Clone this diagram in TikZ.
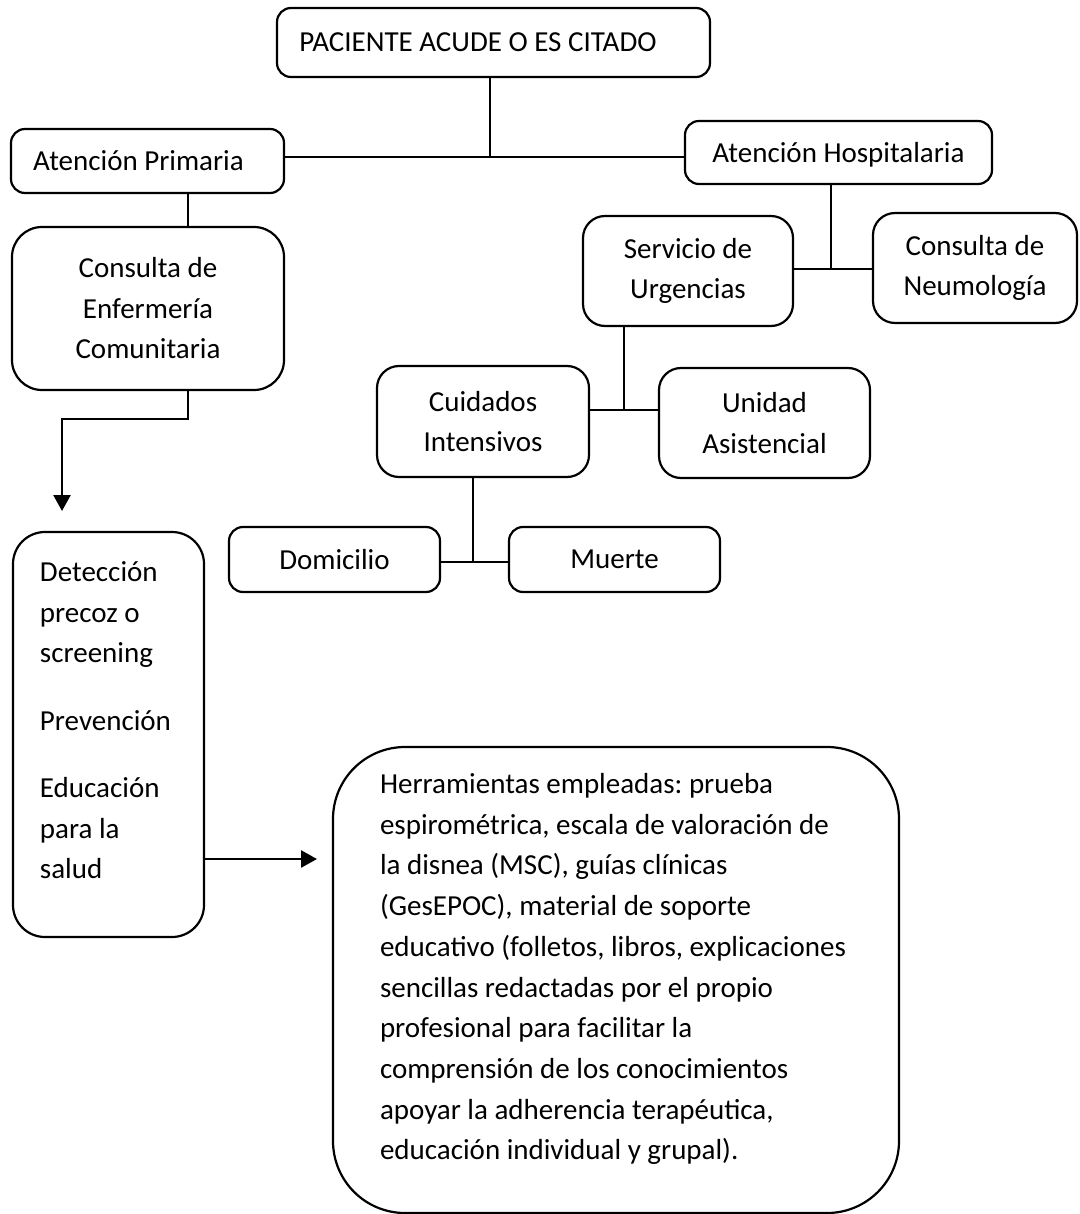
\documentclass[tikz,border=0pt]{standalone}
\usepackage{fontspec}
\setmainfont{Carlito}
\usetikzlibrary{arrows.meta}
\frenchspacing

\begin{document}
\begin{tikzpicture}[x=1pt, y=-1pt,
    box/.style={draw, line width=2.2pt, rounded corners=#1, inner sep=0pt,
      align=center, font=\fontsize{29}{40.5}\selectfont},
    box/.default=14pt,
    link/.style={line width=1.8pt},
    arrowline/.style={line width=2.6pt, -{Triangle[width=17pt,length=16pt]}}]
  \useasboundingbox (0,0) rectangle (1079,1214);

  % Top level
  \node[box, minimum width=433pt, minimum height=69pt] (pac) at (493.5,42.5)
    {PACIENTE ACUDE O ES CITADO\hspace*{31pt}};
  \node[box, minimum width=273pt, minimum height=64pt] (prim) at (147.5,161)
    {Atención Primaria\hspace*{18pt}};
  \node[box, minimum width=307pt, minimum height=63pt, text depth=0pt] (hosp) at (838.5,152.5)
    {Atención Hospitalaria};

  % Primary care branch
  \node[box=30pt, minimum width=272pt, minimum height=163pt] (cons) at (148,308.5)
    {Consulta de\\Enfermería\\Comunitaria};
  \node[box=32pt, minimum width=191pt, minimum height=405pt] (det) at (108.5,734.5)
    {\hspace*{13pt}\parbox[c][362pt][t]{150pt}{\raggedright\strut Detección\\precoz o\\screening\\[27pt]Prevención\\[27pt]Educación\\para la\\salud}};
  \node[box=72pt, minimum width=566pt, minimum height=466pt] (herr) at (616,980)
    {\hspace*{38pt}\parbox[c][430pt][t]{510pt}{\fontsize{29}{40.7}\selectfont\raggedright\strut Herramientas empleadas: prueba\\
      espirométrica, escala de valoración de\\
      la disnea (MSC), guías clínicas\\
      (GesEPOC), material de soporte\\
      educativo (folletos, libros, explicaciones\\
      sencillas redactadas por el propio\\
      profesional para facilitar la\\
      comprensión de los conocimientos\\
      apoyar la adherencia terapéutica,\\
      educación individual y grupal).}};

  % Hospital branch
  \node[box=22pt, minimum width=210pt, minimum height=110pt] (serv) at (688,271) {Servicio de\\Urgencias};
  \node[box=22pt, minimum width=204pt, minimum height=110pt] (neum) at (975,268) {Consulta de\\Neumología};
  \node[box=22pt, minimum width=212pt, minimum height=111pt] (cuid) at (483,421.5) {Cuidados\\Intensivos};
  \node[box=22pt, minimum width=211pt, minimum height=110pt] (unid) at (764.5,423) {Unidad\\Asistencial};
  \node[box, minimum width=211pt, minimum height=65pt] (dom) at (334.5,559.5) {Domicilio};
  \node[box, minimum width=211pt, minimum height=65pt] (muer) at (614.5,559.5) {Muerte};

  % Junctions
  \coordinate (j0) at (188,419);
  \coordinate (j1) at (490,157);
  \coordinate (j2) at (831,269);
  \coordinate (j3) at (624,410);
  \coordinate (j4) at (473,562);
  \coordinate (dettip) at (62,511);
  \coordinate (herrtip) at (317,859);

  % Connectors
  \draw[link] (pac.south -| j1) -- (j1);
  \draw[link] (prim.east |- j1) -- (hosp.west |- j1);
  \draw[link] (prim.south -| j0) -- (cons.north -| j0);
  \draw[link] (hosp.south -| j2) -- (j2);
  \draw[link] (serv.east |- j2) -- (neum.west |- j2);
  \draw[link] (serv.south -| j3) -- (j3);
  \draw[link] (cuid.east |- j3) -- (unid.west |- j3);
  \draw[link] (cuid.south -| j4) -- (j4);
  \draw[link] (dom.east |- j4) -- (muer.west |- j4);

  % Arrows
  \draw[arrowline] (cons.south -| j0) -- (j0) -| (dettip);
  \draw[arrowline] (det.east |- herrtip) -- (herrtip);
\end{tikzpicture}
\end{document}
